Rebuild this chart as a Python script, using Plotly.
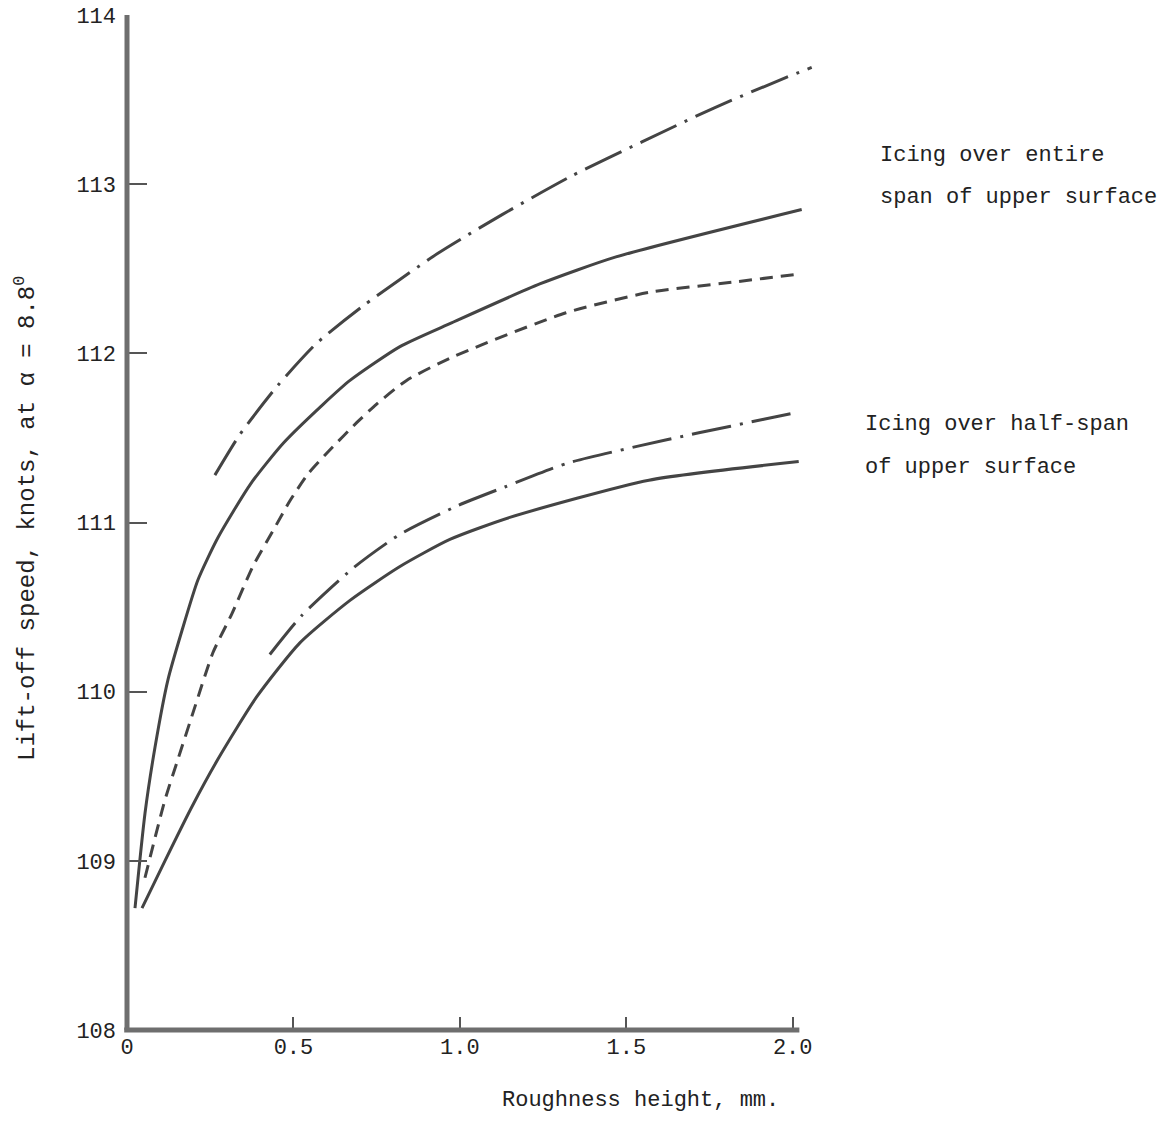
import plotly.graph_objects as go

# Roughness height (mm) and lift-off speed (knots)
entire_solid_x = [0.024, 0.054, 0.084, 0.123, 0.165, 0.213, 0.273, 0.372, 0.47, 0.59, 0.67, 0.82, 0.975, 1.24, 1.469, 2.027]
entire_solid_y = [108.72, 109.28, 109.67, 110.07, 110.36, 110.66, 110.91, 111.23, 111.47, 111.70, 111.84, 112.04, 112.18, 112.41, 112.57, 112.85]

entire_dashdot_x = [0.264, 0.339, 0.453, 0.57, 0.709, 0.933, 1.127, 1.337, 1.547, 1.763, 1.979, 2.057]
entire_dashdot_y = [111.28, 111.52, 111.81, 112.06, 112.28, 112.59, 112.82, 113.05, 113.25, 113.45, 113.63, 113.69]

entire_dash_x = [0.054, 0.114, 0.153, 0.204, 0.258, 0.315, 0.378, 0.444, 0.49, 0.545, 0.61, 0.69, 0.75, 0.84, 0.98, 1.319, 1.568, 1.817, 2.027]
entire_dash_y = [108.90, 109.36, 109.60, 109.91, 110.23, 110.46, 110.74, 110.97, 111.13, 111.29, 111.43, 111.59, 111.70, 111.84, 111.98, 112.24, 112.36, 112.42, 112.47]

half_solid_x = [0.045, 0.114, 0.195, 0.273, 0.39, 0.52, 0.67, 0.82, 0.97, 1.15, 1.568, 2.018]
half_solid_y = [108.72, 109.0, 109.32, 109.60, 109.97, 110.29, 110.54, 110.74, 110.90, 111.03, 111.25, 111.36]

half_dashdot_x = [0.429, 0.525, 0.679, 0.82, 0.994, 1.135, 1.322, 1.532, 1.718, 1.913, 2.012]
half_dashdot_y = [110.22, 110.45, 110.73, 110.93, 111.10, 111.21, 111.35, 111.45, 111.53, 111.61, 111.65]

x_ticks = [0, 0.5, 1.0, 1.5, 2.0]
x_tick_labels = ["0", "0.5", "1.0", "1.5", "2.0"]
y_ticks = [108, 109, 110, 111, 112, 113, 114]
y_tick_labels = ["108", "109", "110", "111", "112", "113", "114"]

FONT = "Liberation Mono, Courier New, monospace"
INK = "#222222"
LINE = "#444444"
DASHDOT = "40px,9px,3px,9px"

X_MAX = 2.1
fig = go.Figure()

def add(x, y, dash):
    fig.add_trace(go.Scatter(x=x, y=y, mode="lines",
                             line=dict(color=LINE, width=3, dash=dash, shape="spline", smoothing=0.6),
                             showlegend=False, hoverinfo="skip"))

add(entire_solid_x, entire_solid_y, "solid")
add(entire_dashdot_x, entire_dashdot_y, DASHDOT)
add(entire_dash_x, entire_dash_y, "13px,8px")
add(half_solid_x, half_solid_y, "solid")
add(half_dashdot_x, half_dashdot_y, DASHDOT)

# axis lines (paper-referenced so they are not clipped)
fig.add_shape(type="line", x0=-0.004, x1=2.02 / X_MAX, y0=0, y1=0, xref="paper", yref="paper",
              line=dict(color="#6e6e6e", width=5))
fig.add_shape(type="line", x0=0, x1=0, y0=0, y1=1, xref="paper", yref="paper",
              line=dict(color="#6e6e6e", width=5))

fig.update_xaxes(range=[0, X_MAX], tickvals=x_ticks, ticktext=x_tick_labels,
                 ticks="inside", ticklen=13, tickwidth=2, tickcolor="#555555",
                 showgrid=False, zeroline=False, showline=False, automargin=False,
                 ticklabelstandoff=1, ticklabeloverflow="allow",
                 tickfont=dict(family=FONT, size=22, color=INK))
fig.update_yaxes(range=[108, 114], tickvals=y_ticks, ticktext=y_tick_labels,
                 ticks="inside", ticklen=20, tickwidth=2, tickcolor="#555555",
                 showgrid=False, zeroline=False, showline=False, automargin=False,
                 ticklabelstandoff=10, ticklabeloverflow="allow",
                 tickfont=dict(family=FONT, size=22, color=INK))

# body margin is removed by the post script, so page coords == figure coords
OFF = 0
FIG_W, FIG_H = 1171, 1148
L, T = 127 - OFF, 15 - OFF
W = int(round(333 * X_MAX))
H = (1030 - OFF) - T
B = FIG_H - T - H

def to_paper(px, py):
    return (px - OFF - L) / W, 1 - (py - OFF - T) / H

annotations = [
    dict(text="Roughness height, mm.", x=640, y=1100, xanchor="center"),
    dict(text="Icing over entire", x=878, y=155, xanchor="left"),
    dict(text="span of upper surface", x=878, y=198, xanchor="left"),
    dict(text="Icing over half-span", x=863, y=425, xanchor="left"),
    dict(text="of upper surface", x=863, y=467, xanchor="left"),
]
for a in annotations:
    ax, ay = to_paper(a["x"], a["y"])
    fig.add_annotation(text=a["text"], x=ax, y=ay,
                       xref="paper", yref="paper", showarrow=False,
                       xanchor=a["xanchor"], yanchor="middle",
                       font=dict(family=FONT, size=22, color=INK))
tx, ty = to_paper(25, 519)
fig.add_annotation(text="Lift-off speed, knots, at α = 8.8<sup>0</sup>",
                   x=tx, y=ty, xref="paper", yref="paper",
                   showarrow=False, textangle=-90, xanchor="center", yanchor="middle",
                   font=dict(family=FONT, size=24, color=INK))

fig.update_layout(width=FIG_W, height=FIG_H, plot_bgcolor="white", paper_bgcolor="white",
                  margin=dict(l=L, r=FIG_W - L - W, t=T, b=B, autoexpand=False),
                  showlegend=False)

fig.write_html("out.html", config={"displayModeBar": False},
               post_script="document.body.style.margin='0';")
